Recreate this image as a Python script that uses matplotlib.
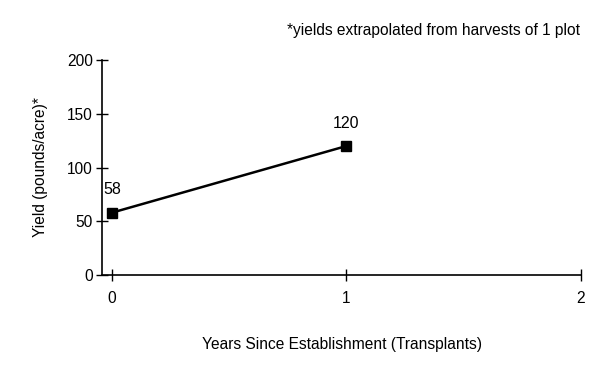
import matplotlib.pyplot as plt

plt.rcParams["font.family"] = ["Liberation Sans", "DejaVu Sans"]

# data
years = [0, 1]
yields = [58, 120]
xticks = [0, 1, 2]
yticks = [0, 50, 100, 150, 200]

fig = plt.figure(figsize=(6, 3.71), dpi=100)
ax = fig.add_axes([102 / 600, 1 - 275 / 371, (581 - 102) / 600, (275 - 60) / 371])

ax.plot(years, yields, color="black", lw=1.8, marker="s", ms=6.5, clip_on=False)
for x, y in zip(years, yields):
    ax.annotate(str(y), (x, y), xytext=(0, 11), textcoords="offset points",
                ha="center", va="bottom", fontsize=11.5)

ax.set_xlim(-0.0426, 2)
ax.set_ylim(0, 200)
ax.set_xticks(xticks)
ax.set_yticks(yticks)
ax.tick_params(direction="inout", length=9, width=1, labelsize=11.2)
ax.tick_params(axis="x", pad=7)
ax.tick_params(axis="y", pad=2)

for side in ["top", "right"]:
    ax.spines[side].set_visible(False)
ax.spines["left"].set_linewidth(1.2)
ax.spines["bottom"].set_linewidth(1.2)

ax.set_xlabel("Years Since Establishment (Transplants)", fontsize=11.2, labelpad=22)
ax.set_ylabel("Yield (pounds/acre)*", fontsize=11.2, labelpad=14)

fig.text(580 / 600, 1 - 30 / 371, "*yields extrapolated from harvests of 1 plot",
         ha="right", va="center", fontsize=11.2)

fig.savefig("out.png", dpi=100)
